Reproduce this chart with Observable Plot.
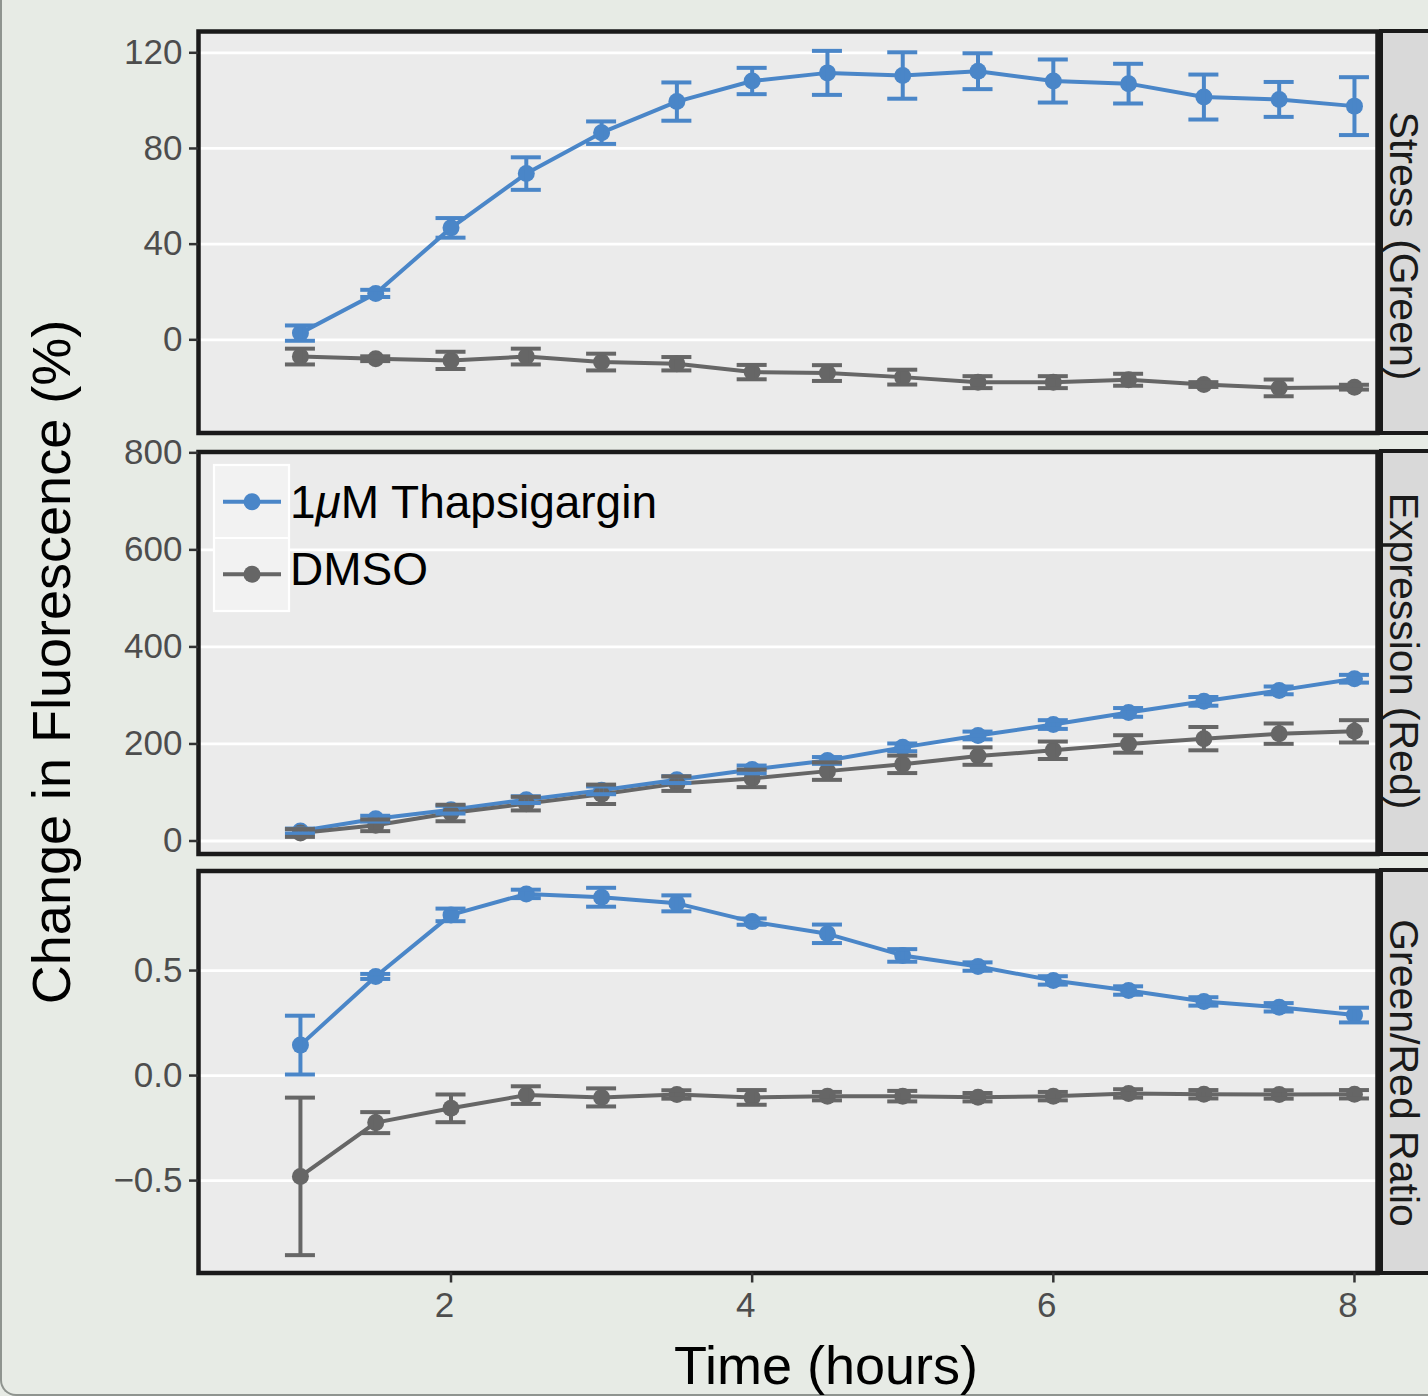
<!DOCTYPE html>
<html><head><meta charset="utf-8">
<script src="https://cdn.jsdelivr.net/npm/d3@7"></script>
<script src="https://cdn.jsdelivr.net/npm/@observablehq/plot@0.6"></script>
<style>
html,body{margin:0;padding:0;background:#e7ebe5;}
#root{position:relative;width:1428px;height:1396px;overflow:hidden;font-family:"Liberation Sans",Arial,Helvetica,sans-serif;background:#e7ebe5;}
.edge{position:absolute;left:0;top:-20px;width:1470px;height:1416px;border-left:2px solid #8f948f;border-bottom:2px solid #8f948f;border-bottom-left-radius:16px;box-sizing:border-box;}
.strip{position:absolute;left:1379px;width:80px;background:#d9d9d9;border:4.5px solid #1a1a1a;box-sizing:border-box;}
.panel{position:absolute;left:0;}
#overlay{position:absolute;left:0;top:0;pointer-events:none;}
</style></head><body><div id="root"><div class="edge"></div></div>
<script>
// ---------- data ----------
const time = [1, 1.5, 2, 2.5, 3, 3.5, 4, 4.5, 5, 5.5, 6, 6.5, 7, 7.5, 8];
const series = ["1μM Thapsigargin", "DMSO"];
const seriesColors = ["#4a86c8", "#666666"];
const panelNames = ["Stress (Green)", "Expression (Red)", "Green/Red Ratio"];

const stressThaps    = [2.8, 19.4, 46.8, 69.5, 86.6, 99.6, 108.2, 111.6, 110.5, 112.3, 108.2, 107.1, 101.5, 100.5, 97.7];
const stressThapsErr = [3.2, 1.5, 4.1, 6.8, 4.7, 8.0, 5.5, 9.2, 9.7, 7.5, 9.0, 8.3, 9.4, 7.3, 12.1];
const stressDmso     = [-7.0, -7.9, -8.6, -7.0, -9.3, -10.0, -13.5, -13.9, -15.6, -17.7, -17.7, -16.7, -18.7, -20.1, -19.8];
const stressDmsoErr  = [3.3, 1.0, 3.6, 3.3, 3.5, 2.8, 3.0, 3.3, 3.1, 2.5, 2.5, 2.5, 1.0, 3.5, 1.0];

const exprThaps    = [20.6, 46, 64.6, 85.2, 104.4, 126.4, 147.5, 166, 193, 217.5, 240, 265, 287.8, 310.4, 334.4];
const exprThapsErr = [5, 6, 8, 7, 8, 7, 8, 7, 8, 8, 9, 9, 9, 8, 8];
const exprDmso     = [16.5, 32.3, 57.7, 77, 96.2, 118.2, 129, 144, 158, 175, 187, 200, 210.9, 221.2, 226];
const exprDmsoErr  = [8, 12, 17, 14, 20, 15, 18, 18, 18, 18, 18, 18, 24, 21, 23];

const ratioThaps    = [0.145, 0.472, 0.765, 0.865, 0.849, 0.820, 0.733, 0.675, 0.572, 0.519, 0.453, 0.405, 0.353, 0.325, 0.288];
const ratioThapsErr = [0.14, 0.012, 0.03, 0.02, 0.045, 0.038, 0.015, 0.044, 0.03, 0.02, 0.02, 0.02, 0.02, 0.02, 0.035];
const ratioDmso     = [-0.48, -0.224, -0.156, -0.093, -0.104, -0.090, -0.104, -0.098, -0.098, -0.103, -0.098, -0.085, -0.089, -0.090, -0.089];
const ratioDmsoErr  = [0.375, 0.05, 0.066, 0.042, 0.043, 0.02, 0.035, 0.02, 0.025, 0.02, 0.02, 0.02, 0.02, 0.02, 0.02];

const yTicksStress = [0, 40, 80, 120];
const yTicksExpr   = [0, 200, 400, 600, 800];
const yTicksRatio  = [-0.5, 0, 0.5];
const xTicks = [2, 4, 6, 8];
const xTitle = "Time (hours)";
const yTitle = "Change in Fluorescence (%)";

// ---------- build ----------
function rows(means, errs, s) {
  return time.map((t, i) => ({time: t, series: s, mean: means[i], lo: means[i] - errs[i], hi: means[i] + errs[i]}));
}
const stressData = rows(stressThaps, stressThapsErr, series[0]).concat(rows(stressDmso, stressDmsoErr, series[1]));
const exprData   = rows(exprThaps, exprThapsErr, series[0]).concat(rows(exprDmso, exprDmsoErr, series[1]));
const ratioData  = rows(ratioThaps, ratioThapsErr, series[0]).concat(rows(ratioDmso, ratioDmsoErr, series[1]));

const W = 1428;
const frameLeft = 198, frameRight = 1377;
const xDomain = [0.323, 8.153];
const capHalf = 15 / ((frameRight - frameLeft) / (xDomain[1] - xDomain[0]));
const font = '"Liberation Sans", Arial, Helvetica, sans-serif';

const panelCfg = [
  {data: stressData, name: panelNames[0], ticks: yTicksStress, fmt: d3.format("d"), yDomain: [-38.96, 128.9], top: 0, height: 441, mt: 31, mb: 8.5, labelY: 246},
  {data: exprData, name: panelNames[1], ticks: yTicksExpr, fmt: d3.format("d"), yDomain: [-26.8, 801.7], top: 441, height: 421, mt: 10.5, mb: 8.5, labelY: 651},
  {data: ratioData, name: panelNames[2], ticks: yTicksRatio, fmt: d3.format(".1f"), yDomain: [-0.940, 0.974], top: 862, height: 534, mt: 8.5, mb: 123.5, labelY: 1073, xaxis: true}
];

const root = document.getElementById("root");

panelCfg.forEach(cfg => {
  // strip background (decorative)
  const strip = document.createElement("div");
  strip.className = "strip";
  strip.style.top = (cfg.top + cfg.mt - 2.25) + "px";
  strip.style.height = (cfg.height - cfg.mt - cfg.mb + 4.5) + "px";
  root.appendChild(strip);

  const d = cfg.data;
  const marks = [
    Plot.frame({fill: "#ebebeb"}),
    Plot.gridY(cfg.ticks, {stroke: "white", strokeOpacity: 1, strokeWidth: 2.8}),
    Plot.line(d, {x: "time", y: "mean", z: "series", stroke: "series", strokeWidth: 4}),
    Plot.dot(d, {x: "time", y: "mean", fill: "series", r: 8.5}),
    Plot.ruleX(d, {x: "time", y1: "lo", y2: "hi", stroke: "series", strokeWidth: 4}),
    Plot.ruleY(d, {y: "lo", x1: r => r.time - capHalf, x2: r => r.time + capHalf, stroke: "series", strokeWidth: 4}),
    Plot.ruleY(d, {y: "hi", x1: r => r.time - capHalf, x2: r => r.time + capHalf, stroke: "series", strokeWidth: 4}),
    Plot.frame({stroke: "#1a1a1a", strokeWidth: 4.5}),
    Plot.axisY(cfg.ticks, {tickSize: 9, tickPadding: 7, fontSize: 35, fill: "#4d4d4d", stroke: "#333333", strokeWidth: 2.5, tickFormat: cfg.fmt, label: null})
  ];
  if (cfg.xaxis) {
    marks.push(Plot.axisX(xTicks, {tickSize: 10, stroke: "#333333", strokeWidth: 2.5, tickFormat: () => "", label: null}));
    marks.push(Plot.axisX(xTicks, {tickSize: 0, tickPadding: 19.5, dx: -6.5, fontSize: 35, fill: "#4d4d4d", tickFormat: d3.format("d"), label: null}));
  }
  const p = Plot.plot({
    width: W,
    height: cfg.height,
    marginLeft: frameLeft,
    marginRight: W - frameRight,
    marginTop: cfg.mt,
    marginBottom: cfg.mb,
    style: {background: "transparent", fontFamily: font, overflow: "visible"},
    x: {domain: xDomain, axis: cfg.xaxis ? undefined : null, label: null},
    y: {domain: cfg.yDomain, label: null},
    color: {domain: series, range: seriesColors},
    marks
  });
  p.classList.add("panel");
  p.style.top = cfg.top + "px";
  root.appendChild(p);
});

// ---------- overlay: strip labels, titles, legend ----------
const svg = d3.select(root).append("svg").attr("id", "overlay")
  .attr("width", W).attr("height", 1396)
  .style("font-family", font);

panelCfg.forEach(cfg => {
  svg.append("text")
    .attr("transform", `translate(1390,${cfg.labelY}) rotate(90)`)
    .attr("text-anchor", "middle").attr("font-size", 41).attr("fill", "#1a1a1a")
    .text(cfg.name);
});

svg.append("text")
  .attr("transform", "translate(70,662) rotate(-90)")
  .attr("text-anchor", "middle").attr("font-size", 54).attr("fill", "#000")
  .text(yTitle);
svg.append("text")
  .attr("x", 826).attr("y", 1384)
  .attr("text-anchor", "middle").attr("font-size", 54).attr("fill", "#000")
  .text(xTitle);

const lg = svg.append("g");
lg.append("rect").attr("x", 214).attr("y", 465).attr("width", 75).attr("height", 146)
  .attr("fill", "#f2f2f2").attr("stroke", "white").attr("stroke-width", 2.2);
lg.append("line").attr("x1", 214).attr("x2", 289).attr("y1", 538).attr("y2", 538)
  .attr("stroke", "white").attr("stroke-width", 2.2);
const keyY = [501.7, 574.3];
const textY = [518.3, 585];
series.forEach((s, i) => {
  lg.append("line").attr("x1", 223).attr("x2", 281).attr("y1", keyY[i]).attr("y2", keyY[i])
    .attr("stroke", seriesColors[i]).attr("stroke-width", 4);
  lg.append("circle").attr("cx", 252).attr("cy", keyY[i]).attr("r", 8.5).attr("fill", seriesColors[i]);
  const t = lg.append("text").attr("x", 290).attr("y", textY[i]).attr("font-size", 46).attr("fill", "#000");
  const parts = s.split("μ");
  if (parts.length > 1) {
    t.append("tspan").text(parts[0]);
    t.append("tspan").attr("font-style", "italic").text("μ");
    t.append("tspan").text(parts[1]);
  } else {
    t.text(s);
  }
});
</script></body></html>
